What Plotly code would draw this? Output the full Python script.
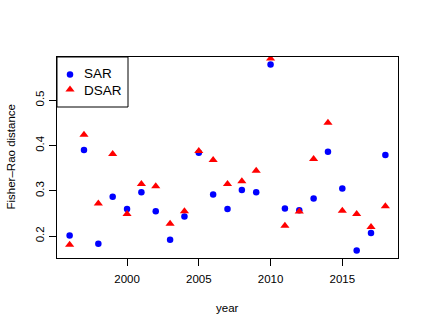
import plotly.graph_objects as go

years = list(range(1996, 2019))
sar = [0.201, 0.390, 0.183, 0.287, 0.260, 0.297, 0.255, 0.192, 0.243, 0.384,
       0.292, 0.260, 0.302, 0.297, 0.579, 0.261, 0.257, 0.283, 0.386, 0.305,
       0.168, 0.207, 0.379]
dsar = [0.181, 0.424, 0.272, 0.381, 0.249, 0.315, 0.310, 0.227, 0.255, 0.388,
        0.368, 0.315, 0.321, 0.344, 0.592, 0.223, 0.254, 0.370, 0.450, 0.256,
        0.249, 0.220, 0.266]
series_names = ["SAR", "DSAR"]
x_ticks = [2000, 2005, 2010, 2015]
y_ticks = [0.2, 0.3, 0.4, 0.5]

FONT = "Liberation Sans, Arial, Helvetica, sans-serif"

# R-style 4% axis extension (y based on the first series, as in plot())
xmin, xmax = min(years), max(years)
xpad = (xmax - xmin) * 0.04
ymin, ymax = min(sar), max(sar)
ypad = (ymax - ymin) * 0.04

fig = go.Figure()
fig.add_trace(go.Scatter(x=years, y=sar, mode="markers", name=" ", legend="legend",
                         marker=dict(symbol="circle", size=6.5, color="#0000FF"),
                         cliponaxis=True))
fig.add_trace(go.Scatter(x=years, y=dsar, mode="markers", name=" ", legend="legend2",
                         marker=dict(symbol="triangle-up", size=8, color="#FF0000"),
                         cliponaxis=True))

W, H = 427, 330
L, R, T, B = 57, 29, 57, 72
pw, ph = W - L - R, H - T - B

def px_x(px):  # window pixel x -> paper x
    return (px - L) / pw

def px_y(py):  # window pixel y -> paper y
    return (H - B - py) / ph

legend_common = dict(xanchor="left", yanchor="top",
                     bgcolor="rgba(0,0,0,0)", borderwidth=0,
                     font=dict(size=8.5, family=FONT), itemwidth=30)

fig.update_layout(
    width=W, height=H,
    margin=dict(l=L, r=R, t=T, b=B, autoexpand=False),
    paper_bgcolor="white", plot_bgcolor="white",
    font=dict(family=FONT, size=12, color="black"),
    showlegend=True,
    legend=dict(x=px_x(50), y=px_y(60), **legend_common),
    legend2=dict(x=px_x(50), y=px_y(75), **legend_common),
    xaxis=dict(range=[xmin - xpad, xmax + xpad], tickmode="array",
               tickvals=x_ticks, ticktext=[str(v) for v in x_ticks],
               ticks="outside", ticklen=7, tickwidth=1, tickcolor="black",
               showgrid=False, zeroline=False, showline=True, mirror=True,
               linecolor="black", linewidth=1, ticklabelstandoff=3,
               tickfont=dict(size=11.5, family=FONT), automargin=False),
    yaxis=dict(range=[ymin - ypad, ymax + ypad], tickmode="array",
               tickvals=y_ticks, ticktext=[str(v) for v in y_ticks],
               tickangle=-90,
               ticks="outside", ticklen=7, tickwidth=1, tickcolor="black",
               showgrid=False, zeroline=False, showline=True, mirror=True,
               linecolor="black", linewidth=1,
               tickfont=dict(size=11.5, family=FONT), automargin=False),
    shapes=[dict(type="rect", xref="paper", yref="paper",
                 x0=0, x1=px_x(128), y0=px_y(107), y1=1,
                 line=dict(color="black", width=1), fillcolor="white",
                 layer="below")],
    annotations=[
        dict(text=series_names[0], xref="paper", yref="paper", x=px_x(82), y=px_y(74),
             showarrow=False, xanchor="left", yanchor="middle",
             font=dict(size=13.5, family=FONT)),
        dict(text=series_names[1], xref="paper", yref="paper", x=px_x(82), y=px_y(90),
             showarrow=False, xanchor="left", yanchor="middle",
             font=dict(size=13.5, family=FONT)),
        dict(text="year", xref="paper", yref="paper", x=0.5, y=px_y(308),
             showarrow=False, xanchor="center", yanchor="middle",
             font=dict(size=11.5, family=FONT)),
        dict(text="Fisher–Rao distance", xref="paper", yref="paper",
             x=px_x(10), y=0.5, textangle=-90, showarrow=False,
             xanchor="center", yanchor="middle",
             font=dict(size=11.5, family=FONT)),
    ],
)

fig.write_html("out.html", config={"displayModeBar": False},
               post_script="document.body.style.margin='0';document.body.style.overflow='hidden';")
